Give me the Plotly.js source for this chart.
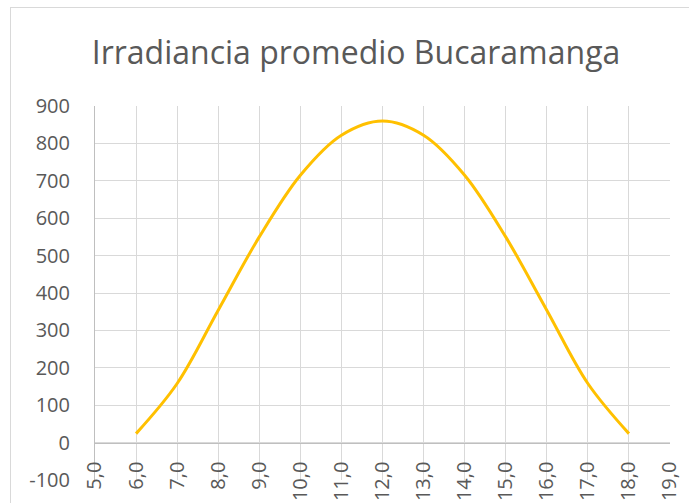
<!DOCTYPE html>
<html>
<head>
<meta charset="utf-8">
<script src="https://cdn.plot.ly/plotly-3.0.1.min.js"></script>
<style>
  html, body { margin: 0; padding: 0; background: #ffffff; overflow: hidden; }
  #frame { position: absolute; left: 10px; top: 7px; width: 700px; height: 520px; border: 1px solid #d9d9d9; box-sizing: border-box; }
  #chart { position: absolute; left: 0; top: 0; width: 689px; height: 503px; }
</style>
</head>
<body>
<div id="frame"></div>
<div id="chart"></div>
<script>
const hours = [6, 7, 8, 9, 10, 11, 12, 13, 14, 15, 16, 17, 18];
const irradiance = [24, 158, 354, 550, 715, 822, 860, 822, 715, 550, 354, 158, 24];
const xTicks = [5, 6, 7, 8, 9, 10, 11, 12, 13, 14, 15, 16, 17, 18, 19];
const xTickLabels = ['5,0', '6,0', '7,0', '8,0', '9,0', '10,0', '11,0', '12,0', '13,0', '14,0', '15,0', '16,0', '17,0', '18,0', '19,0'];
const yTicks = [-100, 0, 100, 200, 300, 400, 500, 600, 700, 800, 900];
const yTickLabels = ['-100', '0', '100', '200', '300', '400', '500', '600', '700', '800', '900'];
const chartTitle = 'Irradiancia promedio Bucaramanga';

const trace = {
  x: hours,
  y: irradiance,
  type: 'scatter',
  mode: 'lines',
  line: { color: '#FFC000', width: 3, shape: 'spline', smoothing: 1 },
  hoverinfo: 'skip'
};

const tickFont = { family: 'Open Sans, sans-serif', size: 20, color: '#595959' };

const layout = {
  width: 689,
  height: 503,
  margin: { l: 95, r: 19, t: 106, b: 23, pad: 0 },
  paper_bgcolor: 'rgba(0,0,0,0)',
  plot_bgcolor: 'rgba(0,0,0,0)',
  showlegend: false,
  title: {
    text: chartTitle,
    font: { family: 'Open Sans, sans-serif', size: 32, color: '#595959' },
    x: 356 / 689,
    xanchor: 'center',
    xref: 'container',
    y: 1 - 53 / 503,
    yanchor: 'middle',
    yref: 'container'
  },
  xaxis: {
    range: [5, 19],
    tickmode: 'array',
    tickvals: xTicks,
    ticktext: xTickLabels,
    tickangle: -90,
    tickfont: tickFont,
    ticks: '',
    ticklabelstandoff: 10,
    showgrid: true,
    gridcolor: '#d9d9d9',
    gridwidth: 1,
    zeroline: false,
    showline: true,
    linecolor: '#bfbfbf',
    linewidth: 1,
    anchor: 'free',
    position: 0.1,
    fixedrange: true
  },
  yaxis: {
    range: [-100, 900],
    tickmode: 'array',
    tickvals: yTicks,
    ticktext: yTickLabels,
    tickfont: tickFont,
    ticks: '',
    ticklabelstandoff: 20,
    showgrid: true,
    gridcolor: '#d9d9d9',
    gridwidth: 1,
    zeroline: false,
    showline: true,
    linecolor: '#bfbfbf',
    linewidth: 1,
    fixedrange: true
  }
};

Plotly.newPlot('chart', [trace], layout, { displayModeBar: false, staticPlot: true });
</script>
</body>
</html>
